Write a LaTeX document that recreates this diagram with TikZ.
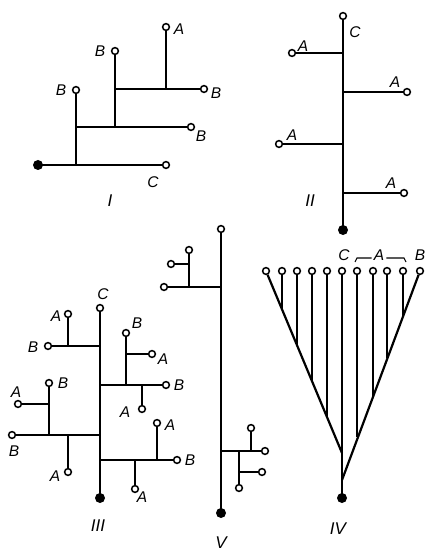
\documentclass[tikz,border=0pt]{standalone}
\usepackage{fontspec}
\setmainfont{Liberation Sans}
\begin{document}
\begin{tikzpicture}[x=1pt,y=-1pt,
  line width=2.2pt,
  leaf/.style={circle,draw,fill=white,line width=1.5pt,inner sep=0pt,minimum size=6.8pt},
  root/.style={circle,fill=black,inner sep=0pt,minimum size=10pt},
  lab/.style={inner sep=0pt,font=\fontsize{15.5}{15.5}\selectfont\itshape},
  num/.style={inner sep=0pt,font=\fontsize{17}{17}\selectfont\itshape}]
\useasboundingbox (0,0) rectangle (425,553);

% ---------------- I ----------------
\coordinate (j1a) at (76,165);
\coordinate (j1b) at (76,127);
\coordinate (j1c) at (115,127);
\coordinate (j1d) at (115,89);
\coordinate (j1e) at (166,89);
\node[root] (r1) at (38,165) {};
\node[leaf] (c1) at (166,165) {};
\node[leaf] (b1) at (76,90) {};
\node[leaf] (b2) at (191,127) {};
\node[leaf] (b3) at (115,51) {};
\node[leaf] (b4) at (204,89) {};
\node[leaf] (a1) at (166,27) {};
\draw (r1.center) -- (c1);
\draw (j1a) -- (b1);
\draw (j1b) -- (b2);
\draw (j1c) -- (b3);
\draw (j1d) -- (b4);
\draw (j1e) -- (a1);
\node[lab] (la1) at (179,29) {A};
\node[lab] (lb1) at (61,90) {B};
\node[lab] (lb3) at (100,51) {B};
\node[lab] (lb4) at (216,93) {B};
\node[lab] (lb2) at (201,136) {B};
\node[lab] (lc1) at (153,182) {C};
\node[num] (n1) at (110,201) {I};

% ---------------- II ----------------
\coordinate (j2a) at (343,53);
\coordinate (j2b) at (343,92);
\coordinate (j2c) at (343,144);
\coordinate (j2d) at (343,193);
\node[leaf] (t2) at (343,16) {};
\node[root] (r2) at (343,230) {};
\node[leaf] (a21) at (292,53) {};
\node[leaf] (a22) at (407,92) {};
\node[leaf] (a23) at (279,144) {};
\node[leaf] (a24) at (404,193) {};
\draw (r2.center) -- (t2);
\draw (j2a) -- (a21);
\draw (j2b) -- (a22);
\draw (j2c) -- (a23);
\draw (j2d) -- (a24);
\node[lab] (lc2) at (355,32) {C};
\node[lab] (la21) at (303,46) {A};
\node[lab] (la22) at (395,82) {A};
\node[lab] (la23) at (292,135) {A};
\node[lab] (la24) at (391,183) {A};
\node[num] (n2) at (310,201) {II};

% ---------------- III ----------------
\coordinate (k1) at (100,346);
\coordinate (k1a) at (68,346);
\coordinate (k2) at (100,385);
\coordinate (k2a) at (126,385);
\coordinate (k2b) at (126,354);
\coordinate (k2c) at (142,385);
\coordinate (k3) at (100,435);
\coordinate (k3a) at (49,435);
\coordinate (k3b) at (49,404);
\coordinate (k3c) at (68,435);
\coordinate (k4) at (100,460);
\coordinate (k4a) at (157,460);
\coordinate (k4b) at (135,460);
\node[leaf] (t3) at (100,308) {};
\node[root] (r3) at (100,498) {};
\node[leaf] (p1) at (48,346) {};
\node[leaf] (p1a) at (68,314) {};
\node[leaf] (p2) at (166,385) {};
\node[leaf] (p2a) at (126,333) {};
\node[leaf] (p2b) at (152,354) {};
\node[leaf] (p2c) at (142,409) {};
\node[leaf] (p3) at (12,435) {};
\node[leaf] (p3a) at (49,383) {};
\node[leaf] (p3b) at (18,404) {};
\node[leaf] (p3c) at (68,472) {};
\node[leaf] (p4) at (177,460) {};
\node[leaf] (p4a) at (157,423) {};
\node[leaf] (p4b) at (135,489) {};
\draw (r3.center) -- (t3);
\draw (k1) -- (p1);
\draw (k1a) -- (p1a);
\draw (k2) -- (p2);
\draw (k2a) -- (p2a);
\draw (k2b) -- (p2b);
\draw (k2c) -- (p2c);
\draw (k3) -- (p3);
\draw (k3a) -- (p3a);
\draw (k3b) -- (p3b);
\draw (k3c) -- (p3c);
\draw (k4) -- (p4);
\draw (k4a) -- (p4a);
\draw (k4b) -- (p4b);
\node[lab] (lc3) at (103,294) {C};
\node[lab] (q1) at (33,347) {B};
\node[lab] (q1a) at (56,316) {A};
\node[lab] (q2) at (179,385) {B};
\node[lab] (q2a) at (137,323) {B};
\node[lab] (q2b) at (163,359) {A};
\node[lab] (q2c) at (125,412) {A};
\node[lab] (q3) at (14,451) {B};
\node[lab] (q3a) at (63,383) {B};
\node[lab] (q3b) at (16,392) {A};
\node[lab] (q3c) at (55,476) {A};
\node[lab] (q4) at (190,460) {B};
\node[lab] (q4a) at (170,425) {A};
\node[lab] (q4b) at (142,497) {A};
\node[num] (n3) at (98,526) {III};

% ---------------- V ----------------
\coordinate (m1) at (221,287);
\coordinate (m1a) at (189,287);
\coordinate (m1b) at (189,264);
\coordinate (m2) at (221,451);
\coordinate (m2a) at (251,451);
\coordinate (m2b) at (239,451);
\coordinate (m2c) at (239,472);
\node[leaf] (t5) at (221,229) {};
\node[root] (r5) at (221,513) {};
\node[leaf] (s1) at (164,287) {};
\node[leaf] (s1a) at (189,250) {};
\node[leaf] (s1b) at (171,264) {};
\node[leaf] (s2) at (265,451) {};
\node[leaf] (s2a) at (251,428) {};
\node[leaf] (s2b) at (239,488) {};
\node[leaf] (s2c) at (262,472) {};
\draw (r5.center) -- (t5);
\draw (m1) -- (s1);
\draw (m1a) -- (s1a);
\draw (m1b) -- (s1b);
\draw (m2) -- (s2);
\draw (m2a) -- (s2a);
\draw (m2b) -- (s2b);
\draw (m2c) -- (s2c);
\node[num] (n5) at (221,543) {V};

% ---------------- IV ----------------
\coordinate (fl) at (342,453);
\coordinate (fr) at (342,480);
\node[root] (r4) at (342,498) {};
\node[leaf] (u1) at (266,271) {};
\node[leaf] (u2) at (282,271) {};
\node[leaf] (u3) at (297,271) {};
\node[leaf] (u4) at (312,271) {};
\node[leaf] (u5) at (327,271) {};
\node[leaf] (u6) at (342,271) {};
\node[leaf] (u7) at (357,271) {};
\node[leaf] (u8) at (373,271) {};
\node[leaf] (u9) at (387,271) {};
\node[leaf] (u10) at (403,271) {};
\node[leaf] (u11) at (420,271) {};
\coordinate (v2) at (282,309);
\coordinate (v3) at (297,345);
\coordinate (v4) at (312,381);
\coordinate (v5) at (327,417);
\coordinate (v7) at (357,437);
\coordinate (v8) at (373,396);
\coordinate (v9) at (387,358);
\coordinate (v10) at (403,316);
\draw (r4.center) -- (u6);
\draw (fl) -- (u1);
\draw (fr) -- (u11);
\draw (v2) -- (u2);
\draw (v3) -- (u3);
\draw (v4) -- (u4);
\draw (v5) -- (u5);
\draw (v7) -- (u7);
\draw (v8) -- (u8);
\draw (v9) -- (u9);
\draw (v10) -- (u10);
\node[lab] (lc4) at (344,255) {C};
\node[lab] (la4) at (379,255) {A};
\node[lab] (lb4b) at (420,255) {B};
\coordinate (br1) at (355,262);
\coordinate (br2) at (357,258);
\coordinate (br3) at (404,258);
\coordinate (br4) at (406,262);
\draw[line width=1.1pt] (br1) -- (br2) -- ([xshift=-1pt]la4.west |- br2);
\draw[line width=1.1pt] ([xshift=1pt]la4.east |- br3) -- (br3) -- (br4);
\node[num] (n4) at (338,529) {IV};
\end{tikzpicture}
\end{document}
